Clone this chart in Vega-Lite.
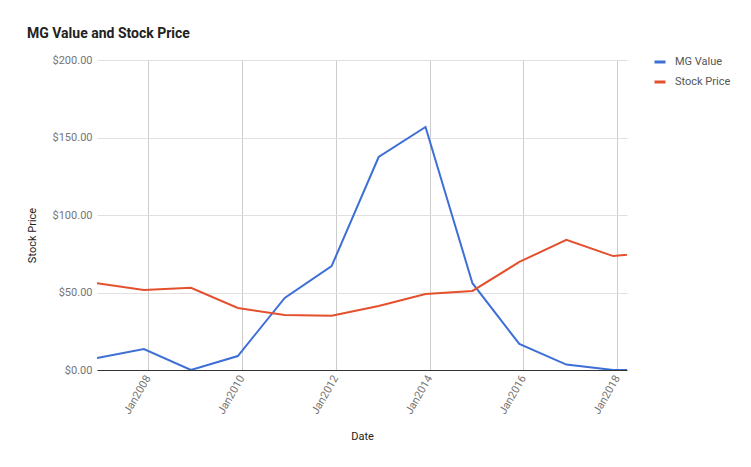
{
  "$schema": "https://vega.github.io/schema/vega-lite/v6.json",
  "width": 530,
  "height": 310,
  "autosize": {"type": "none"},
  "padding": {"left": 97, "top": 60, "right": 124, "bottom": 97},
  "background": "white",
  "title": {
    "text": "MG Value and Stock Price",
    "anchor": "start",
    "frame": "group",
    "dx": -70,
    "offset": 13,
    "font": "Roboto",
    "fontSize": 14,
    "fontWeight": "bold",
    "color": "#222222"
  },
  "data": {
    "values": [
      {"date": "2006-12-01", "series": "MG Value", "value": 7.7},
      {"date": "2007-12-01", "series": "MG Value", "value": 13.5},
      {"date": "2008-12-01", "series": "MG Value", "value": 0},
      {"date": "2009-12-01", "series": "MG Value", "value": 9},
      {"date": "2010-12-01", "series": "MG Value", "value": 46.5},
      {"date": "2011-12-01", "series": "MG Value", "value": 67},
      {"date": "2012-12-01", "series": "MG Value", "value": 137.4},
      {"date": "2013-12-01", "series": "MG Value", "value": 156.8},
      {"date": "2014-12-01", "series": "MG Value", "value": 56},
      {"date": "2015-12-01", "series": "MG Value", "value": 16.8},
      {"date": "2016-12-01", "series": "MG Value", "value": 3.5},
      {"date": "2017-12-01", "series": "MG Value", "value": 0},
      {"date": "2018-12-01", "series": "MG Value", "value": 0},
      {"date": "2006-12-01", "series": "Stock Price", "value": 56},
      {"date": "2007-12-01", "series": "Stock Price", "value": 51.6},
      {"date": "2008-12-01", "series": "Stock Price", "value": 53},
      {"date": "2009-12-01", "series": "Stock Price", "value": 40},
      {"date": "2010-12-01", "series": "Stock Price", "value": 35.5},
      {"date": "2011-12-01", "series": "Stock Price", "value": 35},
      {"date": "2012-12-01", "series": "Stock Price", "value": 41.3},
      {"date": "2013-12-01", "series": "Stock Price", "value": 49},
      {"date": "2014-12-01", "series": "Stock Price", "value": 51},
      {"date": "2015-12-01", "series": "Stock Price", "value": 69.7},
      {"date": "2016-12-01", "series": "Stock Price", "value": 84},
      {"date": "2017-12-01", "series": "Stock Price", "value": 73.5},
      {"date": "2018-12-01", "series": "Stock Price", "value": 76.5}
    ]
  },
  "mark": {"type": "line", "clip": true, "strokeWidth": 2},
  "encoding": {
    "x": {
      "field": "date",
      "type": "temporal",
      "scale": {"type": "utc", "domain": [{"year": 2006, "month": 12, "date": 1, "utc": true}, {"year": 2018, "month": 3, "date": 18, "utc": true}]},
      "axis": {
        "title": "Date",
        "titleFont": "Roboto",
        "titleFontSize": 11,
        "titleFontWeight": "normal",
        "titleColor": "#222222",
        "titleX": 265,
        "titleY": 66,
        "titleBaseline": "middle",
        "values": [
          {"year": 2008, "month": 1, "date": 1, "utc": true},
          {"year": 2010, "month": 1, "date": 1, "utc": true},
          {"year": 2012, "month": 1, "date": 1, "utc": true},
          {"year": 2014, "month": 1, "date": 1, "utc": true},
          {"year": 2016, "month": 1, "date": 1, "utc": true},
          {"year": 2018, "month": 1, "date": 1, "utc": true}
        ],
        "format": "%b%Y",
        "labelAngle": -60,
        "labelAlign": "right",
        "labelBaseline": "middle",
        "labelFont": "Roboto",
        "labelFontSize": 11,
        "labelColor": "#757575",
        "labelPadding": 6,
        "ticks": false,
        "domain": true,
        "domainColor": "#333333",
        "domainWidth": 1,
        "grid": true,
        "gridColor": "#cccccc",
        "gridWidth": 1,
        "labelOverlap": false
      }
    },
    "y": {
      "field": "value",
      "type": "quantitative",
      "scale": {"domain": [0, 200]},
      "axis": {
        "title": "Stock Price",
        "titleFont": "Roboto",
        "titleFontSize": 11,
        "titleFontWeight": "normal",
        "titleColor": "#222222",
        "titleX": -65,
        "titleY": 175,
        "titleAngle": -90,
        "titleBaseline": "middle",
        "titleAlign": "center",
        "values": [0, 50, 100, 150, 200],
        "format": "$,.2f",
        "labelFont": "Roboto",
        "labelFontSize": 11,
        "labelColor": "#757575",
        "labelPadding": 5,
        "ticks": false,
        "domain": false,
        "grid": true,
        "gridColor": "#e0e0e0",
        "gridWidth": 1
      }
    },
    "color": {
      "field": "series",
      "type": "nominal",
      "scale": {"domain": ["MG Value", "Stock Price"], "range": ["#3d6fd6", "#e4502e"]},
      "legend": {
        "title": null,
        "orient": "none",
        "legendX": 556,
        "legendY": -5,
        "symbolType": "stroke",
        "symbolSize": 121,
        "symbolStrokeWidth": 3,
        "labelFont": "Roboto",
        "labelFontSize": 11,
        "labelColor": "#555555",
        "labelOffset": 8,
        "rowPadding": 7,
        "padding": 0
      }
    }
  },
  "config": {
    "view": {"stroke": null},
    "font": "Roboto"
  }
}
